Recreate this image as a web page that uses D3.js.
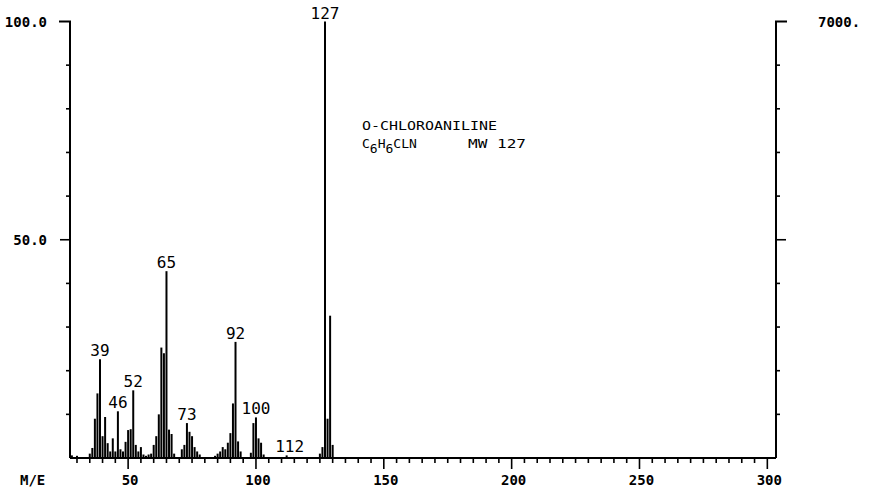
<!DOCTYPE html>
<html>
<head>
<meta charset="utf-8">
<script src="https://cdn.jsdelivr.net/npm/d3@7"></script>
<style>
  html, body { margin: 0; padding: 0; background: #fff; }
  svg { display: block; }
</style>
</head>
<body>
<svg id="chart" width="872" height="496"></svg>
<script>
// ---- Data (m/e and relative intensity, %) ----
const massValues = [28, 30, 35, 36, 37, 38, 39, 40, 41, 42, 43, 44, 45, 46, 47, 48, 49, 50, 51, 52, 53, 54, 55, 56, 57, 58,
  59, 60, 61, 62, 63, 64, 65, 66, 67, 68,
  71, 72, 73, 74, 75, 76, 77, 78,
  84, 85, 86, 87, 88, 89, 90, 91, 92, 93, 94,
  98, 99, 100, 101, 102, 103,
  112,
  125, 126, 127, 128, 129, 130];
const intensities = [0.6, 0.5, 1, 2.3, 9, 14.8, 22.6, 5, 9.4, 3.4, 1.5, 4.5, 1.5, 10.7, 2, 1.5, 3.7, 6.4, 6.6, 15.5, 3, 1.5, 2.5, 0.8, 0.5, 0.8,
  1, 3, 5, 10, 25.3, 24, 42.8, 6.5, 5.5, 1,
  2, 3, 8, 6, 5, 2.5, 1.5, 0.8,
  0.5, 1, 1.5, 2.5, 2, 3.5, 5.7, 12.5, 26.6, 3.8, 1.5,
  1.2, 8, 9.3, 4.5, 3.5, 0.8,
  0.6,
  1, 2.5, 100, 9, 32.6, 3];
const labeledPeaks = [39, 46, 52, 65, 73, 92, 100, 112, 127];
const xTickLabels = [50, 100, 150, 200, 250, 300];
const yTickLabels = ["50.0", "100.0"];
const yTickValues = [50, 100];
const rightTopLabel = "7000.";
const compoundName = "O-CHLOROANILINE";
const xAxisName = "M/E";

// ---- Layout ----
const svg = d3.select("#chart");
const padL = 70, padR = 776, padT = 21.5, base = 458;
const x = d3.scaleLinear().domain([39, 127]).range([100, 325]);
const y = d3.scaleLinear().domain([0, 100]).range([base, padT]);
const ink = "#000";
const monoFont = "'DejaVu Sans Mono', monospace";

const data = massValues.map((m, i) => ({ m, v: intensities[i] }));

// Peaks
svg.append("g").selectAll("line").data(data).join("line")
  .attr("x1", d => x(d.m)).attr("x2", d => x(d.m))
  .attr("y1", base).attr("y2", d => y(d.v))
  .attr("stroke", ink).attr("stroke-width", 2);

// Frame: baseline + left/right verticals
const g = svg.append("g").attr("stroke", ink).attr("fill", "none");
g.append("line").attr("x1", padL).attr("x2", padR).attr("y1", base).attr("y2", base).attr("stroke-width", 2.2);
g.append("line").attr("x1", padL).attr("x2", padL).attr("y1", y(100)).attr("y2", base).attr("stroke-width", 2);
g.append("line").attr("x1", padR).attr("x2", padR).attr("y1", y(100)).attr("y2", base).attr("stroke-width", 2);
g.append("line").attr("x1", padL - 11).attr("x2", padL + 1).attr("y1", y(100)).attr("y2", y(100)).attr("stroke-width", 2);
g.append("line").attr("x1", padR - 1).attr("x2", padR + 11).attr("y1", y(100)).attr("y2", y(100)).attr("stroke-width", 2);

// Left / right y ticks every 10%
const yMinor = d3.range(10, 100, 10);
g.append("g").selectAll("line").data(yMinor).join("line")
  .attr("x1", d => padL - (d === 50 ? 10 : 4)).attr("x2", padL)
  .attr("y1", d => y(d)).attr("y2", d => y(d)).attr("stroke-width", 1.6);
g.append("g").selectAll("line").data(yMinor).join("line")
  .attr("x1", padR).attr("x2", d => padR + (d === 50 ? 10 : 4))
  .attr("y1", d => y(d)).attr("y2", d => y(d)).attr("stroke-width", 1.6);

// Bottom ticks every 5 m/e
const xTicks = d3.range(30, 301, 5);
g.append("g").selectAll("line").data(xTicks).join("line")
  .attr("x1", d => x(d)).attr("x2", d => x(d))
  .attr("y1", base).attr("y2", d => base + (d % 50 === 0 ? 11 : 5))
  .attr("stroke-width", 1.6);

// Axis labels
const t = svg.append("g").attr("font-family", monoFont).attr("font-weight", "bold").attr("font-size", 14).attr("fill", ink);
t.append("g").selectAll("text").data(xTickLabels).join("text")
  .attr("x", d => x(d) + 2).attr("y", 485).attr("text-anchor", "middle").text(d => d);
t.append("text").attr("x", 20).attr("y", 485).text(xAxisName);
t.append("g").selectAll("text").data(yTickValues).join("text")
  .attr("x", 47).attr("y", d => y(d) + 5).attr("text-anchor", "end").text((d, i) => yTickLabels[i]);
t.append("text").attr("x", 818).attr("y", y(100) + 5).text(rightTopLabel);

// Peak labels
const lab = svg.append("g").attr("font-family", monoFont).attr("font-size", 16).attr("fill", ink);
lab.selectAll("text").data(data.filter(d => labeledPeaks.includes(d.m))).join("text")
  .attr("x", d => x(d.m) + (d.m === 112 ? 3 : 0)).attr("y", d => y(d.v) - 3)
  .attr("text-anchor", "middle").text(d => d.m);

// Compound annotation
const ann = svg.append("g").attr("font-family", monoFont).attr("font-size", 13).attr("fill", ink);
ann.append("text").attr("x", 362).attr("y", 130).attr("textLength", 135).attr("lengthAdjust", "spacingAndGlyphs").text(compoundName);
const f = ann.append("text").attr("x", 362).attr("y", 148);
f.append("tspan").text("C");
f.append("tspan").attr("dy", 5).text("6");
f.append("tspan").attr("dy", -5).text("H");
f.append("tspan").attr("dy", 5).text("6");
f.append("tspan").attr("dy", -5).text("CLN");
ann.append("text").attr("x", 468).attr("y", 148).attr("textLength", 58).attr("lengthAdjust", "spacingAndGlyphs").text("MW 127");
</script>
</body>
</html>
